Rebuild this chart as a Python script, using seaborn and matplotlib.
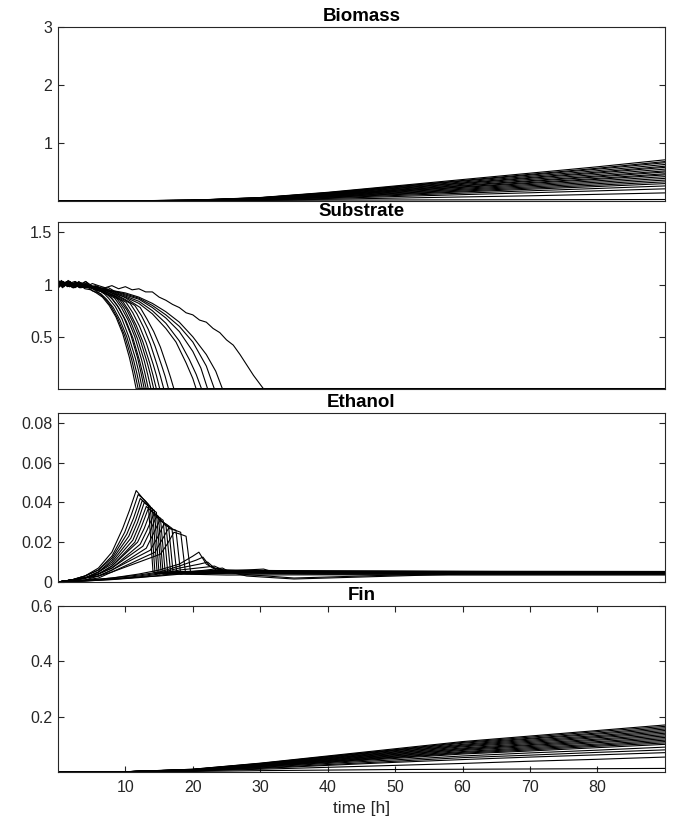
import pandas as pd
import seaborn as sns
import matplotlib.pyplot as plt

# time grid shared by biomass and Fin runs
grid_t = [0, 10, 20, 30, 40, 50, 60, 70, 80, 90]

biomass_runs = [
    [0, 0.003, 0.015, 0.06, 0.15, 0.26, 0.37, 0.48, 0.59, 0.71],
    [0, 0.003, 0.014, 0.057, 0.144, 0.249, 0.354, 0.46, 0.565, 0.68],
    [0, 0.003, 0.014, 0.056, 0.139, 0.242, 0.344, 0.446, 0.549, 0.66],
    [0, 0.003, 0.013, 0.053, 0.133, 0.231, 0.328, 0.426, 0.523, 0.63],
    [0, 0.003, 0.013, 0.051, 0.127, 0.22, 0.313, 0.406, 0.499, 0.60],
    [0, 0.002, 0.012, 0.049, 0.123, 0.212, 0.302, 0.392, 0.482, 0.58],
    [0, 0.002, 0.012, 0.046, 0.116, 0.2, 0.287, 0.372, 0.457, 0.55],
    [0, 0.002, 0.011, 0.044, 0.11, 0.19, 0.271, 0.351, 0.432, 0.52],
    [0, 0.002, 0.011, 0.042, 0.106, 0.183, 0.26, 0.338, 0.415, 0.50],
    [0, 0.002, 0.01, 0.04, 0.099, 0.172, 0.245, 0.318, 0.39, 0.47],
    [0, 0.002, 0.01, 0.038, 0.095, 0.165, 0.235, 0.304, 0.374, 0.45],
    [0, 0.002, 0.009, 0.036, 0.089, 0.154, 0.219, 0.284, 0.349, 0.42],
    [0, 0.002, 0.008, 0.033, 0.082, 0.143, 0.203, 0.264, 0.324, 0.39],
    [0, 0.002, 0.008, 0.03, 0.076, 0.132, 0.188, 0.243, 0.299, 0.36],
    [0, 0.001, 0.007, 0.028, 0.07, 0.121, 0.172, 0.223, 0.274, 0.33],
    [0, 0.001, 0.006, 0.025, 0.063, 0.11, 0.157, 0.203, 0.25, 0.30],
    [0, 0.001, 0.005, 0.022, 0.055, 0.095, 0.135, 0.176, 0.216, 0.26],
    [0, 0.001, 0.004, 0.018, 0.044, 0.077, 0.11, 0.142, 0.175, 0.21],
    [0, 0.001, 0.005, 0.015, 0.03, 0.05, 0.07, 0.09, 0.115, 0.14],
    [0, 0.001, 0.005, 0.01, 0.015, 0.018, 0.02, 0.022, 0.024, 0.026],
]

fin_runs = [
    [0, 0.001, 0.01, 0.032, 0.058, 0.084, 0.11, 0.13, 0.15, 0.17],
    [0, 0.001, 0.01, 0.031, 0.056, 0.081, 0.107, 0.126, 0.146, 0.165],
    [0, 0.001, 0.009, 0.03, 0.055, 0.079, 0.104, 0.122, 0.141, 0.16],
    [0, 0.001, 0.009, 0.029, 0.053, 0.077, 0.1, 0.119, 0.137, 0.155],
    [0, 0.001, 0.009, 0.028, 0.051, 0.074, 0.097, 0.115, 0.132, 0.15],
    [0, 0.001, 0.009, 0.027, 0.049, 0.072, 0.094, 0.111, 0.128, 0.145],
    [0, 0.001, 0.008, 0.026, 0.048, 0.069, 0.091, 0.107, 0.124, 0.14],
    [0, 0.001, 0.008, 0.025, 0.046, 0.067, 0.087, 0.103, 0.119, 0.135],
    [0, 0.001, 0.008, 0.024, 0.044, 0.064, 0.084, 0.099, 0.115, 0.13],
    [0, 0.001, 0.007, 0.024, 0.043, 0.062, 0.081, 0.096, 0.11, 0.125],
    [0, 0.001, 0.007, 0.023, 0.041, 0.059, 0.078, 0.092, 0.106, 0.12],
    [0, 0.001, 0.007, 0.022, 0.039, 0.057, 0.074, 0.088, 0.101, 0.115],
    [0, 0.001, 0.006, 0.021, 0.038, 0.054, 0.071, 0.084, 0.097, 0.11],
    [0, 0.001, 0.006, 0.02, 0.036, 0.052, 0.068, 0.08, 0.093, 0.105],
    [0, 0.001, 0.006, 0.019, 0.034, 0.049, 0.065, 0.076, 0.088, 0.10],
    [0, 0.001, 0.005, 0.017, 0.031, 0.044, 0.058, 0.069, 0.079, 0.09],
    [0, 0, 0.005, 0.015, 0.027, 0.039, 0.052, 0.061, 0.071, 0.08],
    [0, 0, 0.004, 0.013, 0.024, 0.035, 0.045, 0.054, 0.062, 0.07],
    [0, 0, 0.004, 0.01, 0.017, 0.024, 0.031, 0.039, 0.046, 0.054],
    [0, 0, 0.002, 0.005, 0.007, 0.009, 0.01, 0.011, 0.012, 0.013],
]

substrate_t = [
    [0, 0.6, 1.5, 2.3, 3.2, 4.0, 4.9, 5.7, 6.6, 7.6, 8.6, 9.6, 10.6, 11.1, 11.6, 90],
    [0, 0.8, 1.7, 2.5, 3.4, 4.3, 5.1, 6.0, 6.9, 7.9, 8.9, 9.9, 10.9, 11.4, 11.9, 90],
    [0, 0.5, 1.3, 2.2, 3.0, 3.9, 4.7, 5.6, 6.4, 7.2, 8.2, 9.2, 10.2, 11.2, 11.7, 12.2, 90],
    [0, 0.9, 1.8, 2.6, 3.5, 4.4, 5.3, 6.1, 6.9, 7.5, 8.5, 9.5, 10.5, 11.5, 12, 12.5, 90],
    [0, 0.7, 1.4, 2.3, 3.1, 4.0, 4.8, 5.7, 6.5, 7.2, 7.8, 8.8, 9.8, 10.8, 11.8, 12.3, 12.8, 90],
    [0, 0.6, 1.5, 2.4, 3.2, 4.1, 5.0, 5.8, 6.7, 7.4, 8.1, 9.1, 10.1, 11.1, 12.1, 12.6, 13.1, 90],
    [0, 0.8, 1.6, 2.5, 3.3, 4.2, 5.0, 5.9, 6.8, 7.6, 8.4, 9.4, 10.4, 11.4, 12.4, 12.9, 13.4, 90],
    [0, 0.5, 1.4, 2.2, 3.1, 3.9, 4.8, 5.6, 6.5, 7.3, 8.1, 8.8, 9.8, 10.8, 11.8, 12.8, 13.3, 13.8, 90],
    [0, 0.7, 1.5, 2.4, 3.2, 4.1, 4.9, 5.8, 6.6, 7.5, 8.4, 9.2, 10.2, 11.2, 12.2, 13.2, 13.7, 14.2, 90],
    [0, 0.9, 1.7, 2.6, 3.4, 4.3, 5.1, 6.0, 6.9, 7.7, 8.6, 9.6, 10.6, 11.6, 12.6, 13.6, 14.1, 14.6, 90],
    [0, 0.6, 1.4, 2.3, 3.1, 4.0, 4.8, 5.7, 6.5, 7.4, 8.2, 9.1, 10.1, 11.1, 12.1, 13.1, 14.1, 14.6, 15.1, 90],
    [0, 0.8, 1.7, 2.5, 3.4, 4.2, 5.1, 5.9, 6.8, 7.6, 8.5, 9.4, 10.7, 11.7, 12.7, 13.7, 14.7, 15.2, 15.7, 90],
    [0, 0.5, 1.3, 2.2, 3.0, 3.9, 4.7, 5.6, 6.4, 7.3, 8.1, 9.0, 9.9, 11.4, 12.4, 13.4, 14.4, 15.4, 15.9, 16.4, 90],
    [0, 0.7, 1.6, 2.4, 3.3, 4.1, 5.0, 5.8, 6.7, 7.5, 8.4, 9.2, 10.1, 11.0, 12.2, 13.2, 14.2, 15.2, 16.2, 16.7, 17.2, 90],
    [0, 0.9, 1.7, 2.6, 3.4, 4.3, 5.1, 6.0, 6.8, 8, 10, 12, 14, 16, 17.5, 19, 20, 20.5, 90],
    [0, 0.6, 1.5, 2.3, 3.2, 4.0, 4.9, 5.7, 6.6, 7.4, 8.3, 10, 12, 14, 16, 18, 19.5, 20.5, 21.3, 90],
    [0, 0.8, 1.6, 2.5, 3.3, 4.2, 5.0, 5.9, 6.7, 8, 9.1, 10, 12, 14, 16, 18, 20, 21.2, 22.2, 90],
    [0, 0.5, 1.4, 2.2, 3.1, 3.9, 4.8, 5.6, 6.5, 7.3, 8.2, 10, 12, 14, 16, 18, 20, 22, 23.2, 90],
    [0, 0.7, 1.5, 2.4, 3.2, 4.1, 4.9, 5.8, 6.6, 7.5, 8.3, 9.2, 10, 12, 14, 16, 18, 20, 22, 23.4, 24.4, 90],
    [0, 0.8, 1.7, 2.5, 3.4, 4.2, 5.1, 6, 7, 8, 9, 10, 11, 12, 13, 14, 15, 16, 17, 18, 19,
     20, 21, 22, 23, 24, 25, 26, 27, 28, 29, 30.5, 31.5, 90],
]

substrate_v = [
    [1.03, 0.99, 1.02, 0.97, 1.0, 0.96, 0.95, 0.92, 0.88, 0.8, 0.69, 0.53, 0.3, 0.16, 0, 0],
    [0.99, 1.03, 0.98, 1.01, 0.97, 0.98, 0.94, 0.92, 0.87, 0.79, 0.67, 0.51, 0.29, 0.15, 0, 0],
    [1.05, 1.0, 1.03, 0.99, 1.01, 0.97, 0.98, 0.94, 0.91, 0.86, 0.78, 0.66, 0.5, 0.28, 0.15, 0, 0],
    [0.97, 1.02, 0.99, 1.03, 0.98, 0.99, 0.96, 0.95, 0.91, 0.87, 0.79, 0.67, 0.5, 0.29, 0.16, 0, 0],
    [1.02, 0.98, 1.03, 1.0, 1.01, 0.97, 0.98, 0.95, 0.93, 0.91, 0.88, 0.8, 0.68, 0.52, 0.3, 0.16, 0, 0],
    [1.0, 1.03, 0.99, 1.01, 0.97, 1.0, 0.96, 0.96, 0.92, 0.9, 0.86, 0.77, 0.65, 0.49, 0.27, 0.14, 0, 0],
    [1.04, 0.99, 1.02, 0.98, 1.0, 0.98, 0.97, 0.94, 0.93, 0.9, 0.87, 0.78, 0.66, 0.5, 0.28, 0.15, 0, 0],
    [0.98, 1.02, 1.0, 0.97, 1.02, 0.98, 0.99, 0.95, 0.94, 0.91, 0.89, 0.86, 0.77, 0.64, 0.48, 0.27, 0.14, 0, 0],
    [1.01, 0.97, 1.04, 1.0, 0.98, 1.01, 0.97, 0.98, 0.94, 0.92, 0.89, 0.85, 0.76, 0.63, 0.47, 0.26, 0.14, 0, 0],
    [1.03, 1.0, 0.98, 1.02, 0.99, 0.97, 0.98, 0.95, 0.94, 0.91, 0.88, 0.84, 0.74, 0.61, 0.45, 0.25, 0.13, 0, 0],
    [0.96, 1.02, 1.0, 0.99, 1.03, 0.98, 0.99, 0.96, 0.95, 0.92, 0.9, 0.87, 0.83, 0.73, 0.6, 0.44, 0.24, 0.13, 0, 0],
    [1.02, 0.99, 1.03, 0.97, 1.0, 1.01, 0.97, 0.97, 0.95, 0.93, 0.9, 0.87, 0.82, 0.72, 0.59, 0.43, 0.23, 0.12, 0, 0],
    [1.0, 1.04, 0.99, 1.01, 0.98, 1.0, 0.98, 0.97, 0.96, 0.94, 0.92, 0.89, 0.86, 0.8, 0.7, 0.57, 0.41, 0.22, 0.12, 0, 0],
    [0.98, 1.01, 1.02, 1.0, 0.97, 1.03, 0.99, 0.98, 0.96, 0.95, 0.92, 0.9, 0.87, 0.83, 0.78, 0.67, 0.55, 0.4, 0.21, 0.11, 0, 0],
    [1.01, 0.98, 1.03, 0.99, 1.0, 0.97, 0.98, 0.95, 0.96, 0.92, 0.88, 0.82, 0.72, 0.58, 0.45, 0.25, 0.1, 0, 0],
    [0.99, 1.02, 1.0, 0.97, 1.01, 0.99, 0.97, 0.98, 0.95, 0.94, 0.93, 0.89, 0.84, 0.75, 0.63, 0.46, 0.28, 0.14, 0, 0],
    [1.02, 0.99, 1.01, 1.03, 0.98, 1.0, 0.98, 0.96, 0.97, 0.94, 0.92, 0.9, 0.86, 0.78, 0.68, 0.55, 0.36, 0.2, 0, 0],
    [1.0, 1.03, 0.98, 1.0, 1.02, 0.99, 0.97, 0.99, 0.96, 0.95, 0.94, 0.91, 0.87, 0.8, 0.71, 0.6, 0.45, 0.22, 0, 0],
    [0.98, 1.01, 1.02, 0.99, 1.0, 1.03, 0.98, 0.98, 0.96, 0.97, 0.94, 0.93, 0.92, 0.88, 0.82, 0.74, 0.64, 0.5, 0.33, 0.17, 0, 0],
    [1.02, 0.99, 1.03, 1.0, 1.02, 0.98, 1.01, 0.99, 0.97, 0.99, 0.96, 0.98, 0.95, 0.96, 0.93, 0.93, 0.88, 0.85, 0.81,
     0.78, 0.73, 0.71, 0.66, 0.64, 0.58, 0.54, 0.47, 0.42, 0.33, 0.23, 0.13, 0, 0.004, 0.004],
]

ethanol_t = [
    [0, 2, 4, 6, 8, 9.6, 10.6, 11.6, 12.6, 13.4, 14.1, 15.6, 25, 40, 60, 90],
    [0, 2, 4, 6, 8, 9.9, 10.9, 11.9, 12.9, 13.7, 14.4, 15.9, 25, 40, 60, 90],
    [0, 2, 4, 6, 8, 10.2, 11.2, 12.2, 13.2, 14.0, 14.7, 16.2, 25, 40, 60, 90],
    [0, 2, 4, 6, 8, 10.5, 11.5, 12.5, 13.5, 14.3, 15.0, 16.5, 25, 40, 60, 90],
    [0, 2, 4, 6, 8, 10.8, 11.8, 12.8, 13.8, 14.6, 15.3, 16.8, 25, 40, 60, 90],
    [0, 2, 4, 6, 8, 11.1, 12.1, 13.1, 14.1, 14.9, 15.6, 17.1, 25, 40, 60, 90],
    [0, 2, 4, 6, 8, 11.4, 12.4, 13.4, 14.4, 15.2, 15.9, 17.4, 25, 40, 60, 90],
    [0, 2, 4, 6, 8, 11.8, 12.8, 13.8, 14.8, 15.6, 16.3, 17.8, 25, 40, 60, 90],
    [0, 2, 4, 6, 8, 12.2, 13.2, 14.2, 15.2, 16.0, 16.7, 18.2, 25, 40, 60, 90],
    [0, 2, 4, 6, 8, 12.6, 13.6, 14.6, 15.6, 16.4, 17.1, 18.6, 25, 40, 60, 90],
    [0, 2, 4, 6, 8, 13.1, 14.1, 15.1, 16.1, 16.9, 17.6, 19.1, 25, 40, 60, 90],
    [0, 2, 4, 6, 8, 13.7, 14.7, 15.7, 16.7, 17.5, 18.2, 19.7, 25, 40, 60, 90],
    [0, 2, 4, 6, 8, 14.4, 15.4, 16.4, 17.4, 18.2, 18.9, 20.4, 25, 40, 60, 90],
    [0, 2, 4, 6, 8, 15.2, 16.2, 17.2, 18.2, 19.0, 19.7, 21.2, 25, 40, 60, 90],
    [0, 4, 8, 12, 15, 18, 20, 20.9, 22, 23.5, 30, 40, 60, 90],
    [0, 4, 8, 12, 15, 18, 20.5, 21.5, 22.5, 24, 30, 40, 60, 90],
    [0, 4, 8, 12, 15, 18, 21, 22.2, 23.2, 25, 30, 40, 60, 90],
    [0, 4, 8, 12, 15, 18, 22, 23.2, 24.5, 27, 35, 45, 60, 90],
    [0, 4, 8, 12, 15, 18, 22, 24.4, 25.5, 28, 35, 45, 60, 90],
    [0, 5, 10, 15, 20, 25, 30.5, 32, 40, 60, 90],
]

ethanol_v = [
    [0, 0.001, 0.003, 0.007, 0.015, 0.027, 0.036, 0.046, 0.042, 0.039, 0.005, 0.004, 0.005, 0.0048, 0.0046, 0.0045],
    [0, 0.001, 0.003, 0.006, 0.013, 0.025, 0.034, 0.044, 0.041, 0.038, 0.004, 0.005, 0.0055, 0.005, 0.0048, 0.0047],
    [0, 0.001, 0.003, 0.006, 0.012, 0.024, 0.032, 0.042, 0.039, 0.037, 0.005, 0.0045, 0.005, 0.0052, 0.005, 0.0049],
    [0, 0.001, 0.002, 0.005, 0.011, 0.023, 0.031, 0.041, 0.038, 0.036, 0.004, 0.005, 0.006, 0.0055, 0.0053, 0.005],
    [0, 0.001, 0.002, 0.005, 0.01, 0.022, 0.03, 0.04, 0.037, 0.035, 0.005, 0.004, 0.0048, 0.0046, 0.0045, 0.0044],
    [0, 0.001, 0.002, 0.005, 0.009, 0.021, 0.029, 0.038, 0.035, 0.033, 0.004, 0.005, 0.0052, 0.0051, 0.005, 0.005],
    [0, 0.001, 0.002, 0.004, 0.008, 0.02, 0.028, 0.037, 0.034, 0.032, 0.005, 0.0045, 0.0042, 0.004, 0.004, 0.0039],
    [0, 0.001, 0.002, 0.004, 0.008, 0.02, 0.027, 0.036, 0.033, 0.031, 0.004, 0.005, 0.0058, 0.0056, 0.0054, 0.0053],
    [0, 0.001, 0.002, 0.004, 0.007, 0.019, 0.026, 0.034, 0.031, 0.029, 0.005, 0.004, 0.0035, 0.0036, 0.0035, 0.0035],
    [0, 0.001, 0.002, 0.004, 0.007, 0.018, 0.025, 0.033, 0.03, 0.028, 0.004, 0.005, 0.005, 0.0048, 0.0047, 0.0046],
    [0, 0.001, 0.002, 0.003, 0.006, 0.017, 0.024, 0.031, 0.029, 0.027, 0.005, 0.004, 0.0045, 0.0044, 0.0043, 0.0042],
    [0, 0.001, 0.002, 0.003, 0.006, 0.016, 0.022, 0.029, 0.027, 0.026, 0.004, 0.005, 0.0055, 0.0054, 0.0052, 0.0051],
    [0, 0.001, 0.001, 0.003, 0.005, 0.015, 0.021, 0.027, 0.026, 0.025, 0.005, 0.004, 0.0048, 0.005, 0.0049, 0.0048],
    [0, 0.001, 0.001, 0.002, 0.005, 0.014, 0.019, 0.025, 0.024, 0.023, 0.004, 0.005, 0.0052, 0.0052, 0.005, 0.005],
    [0, 0.0008, 0.002, 0.004, 0.006, 0.009, 0.013, 0.015, 0.009, 0.006, 0.0055, 0.005, 0.005, 0.0048],
    [0, 0.0007, 0.002, 0.0035, 0.005, 0.008, 0.011, 0.0125, 0.008, 0.006, 0.005, 0.0046, 0.0045, 0.0045],
    [0, 0.0006, 0.0015, 0.003, 0.0045, 0.007, 0.009, 0.010, 0.007, 0.0055, 0.0045, 0.004, 0.004, 0.004],
    [0, 0.0005, 0.0013, 0.0025, 0.004, 0.006, 0.0075, 0.008, 0.006, 0.004, 0.002, 0.003, 0.0045, 0.0045],
    [0, 0.0005, 0.0012, 0.0022, 0.0033, 0.0045, 0.006, 0.007, 0.005, 0.003, 0.0015, 0.0025, 0.004, 0.0042],
    [0, 0.001, 0.002, 0.003, 0.0045, 0.0055, 0.0065, 0.005, 0.005, 0.0052, 0.005],
]

panel_titles = ["Biomass", "Substrate", "Ethanol", "Fin"]
y_limits = [(0, 3), (0, 1.6), (0, 0.085), (0, 0.6)]
y_ticks = [[1, 2, 3], [0.5, 1, 1.5], [0, 0.02, 0.04, 0.06, 0.08], [0.2, 0.4, 0.6]]
y_ticklabels = [["1", "2", "3"], ["0.5", "1", "1.5"],
                ["0", "0.02", "0.04", "0.06", "0.08"], ["0.2", "0.4", "0.6"]]
x_ticks = [10, 20, 30, 40, 50, 60, 70, 80]


def to_long(times, runs):
    rows = []
    for i, vals in enumerate(runs):
        ts = times[i] if isinstance(times[0], list) else times
        assert len(ts) == len(vals), (i, len(ts), len(vals))
        for t, v in zip(ts, vals):
            rows.append({"t": t, "v": v, "run": i})
    return pd.DataFrame(rows)


frames = [
    to_long(grid_t, biomass_runs),
    to_long(substrate_t, substrate_v),
    to_long(ethanol_t, ethanol_v),
    to_long(grid_t, fin_runs),
]

sns.set_theme(style="white")
plt.rcParams["font.family"] = ["Liberation Sans", "DejaVu Sans"]

ink = "#262626"
fig = plt.figure(figsize=(6.78, 8.32), dpi=100)

# axes rectangles in figure fractions (left, bottom, width, height)
boxes = [
    (0.0855, 0.7584, 0.895, 0.2091),
    (0.0855, 0.5325, 0.895, 0.2007),
    (0.0855, 0.3005, 0.895, 0.2031),
    (0.0855, 0.0721, 0.895, 0.1995),
]

for k, df in enumerate(frames):
    ax = fig.add_axes(boxes[k])
    sns.lineplot(data=df, x="t", y="v", units="run", estimator=None,
                 color="black", linewidth=0.8, sort=False, ax=ax)
    ax.set_xlim(0, 90)
    ax.set_ylim(*y_limits[k])
    ax.set_yticks(y_ticks[k])
    ax.set_yticklabels(y_ticklabels[k])
    ax.set_title(panel_titles[k], fontsize=13.5, fontweight="bold", pad=4, color="black")
    ax.set_ylabel("")
    for s in ax.spines.values():
        s.set_visible(True)
        s.set_color(ink)
        s.set_linewidth(0.8)
    ax.tick_params(axis="y", direction="in", left=True, right=True, length=4,
                   width=0.8, color=ink, labelcolor=ink, labelsize=11.5, pad=4)
    if k == 3:
        ax.set_xticks(x_ticks)
        ax.tick_params(axis="x", direction="in", bottom=True, top=True, length=4,
                       width=0.8, color=ink, labelcolor=ink, labelsize=11.5, pad=6)
        ax.set_xlabel("time [h]", fontsize=12.5, color=ink)
    else:
        ax.set_xticks([])
        ax.set_xlabel("")

fig.savefig("out.png", dpi=100, facecolor="white")
